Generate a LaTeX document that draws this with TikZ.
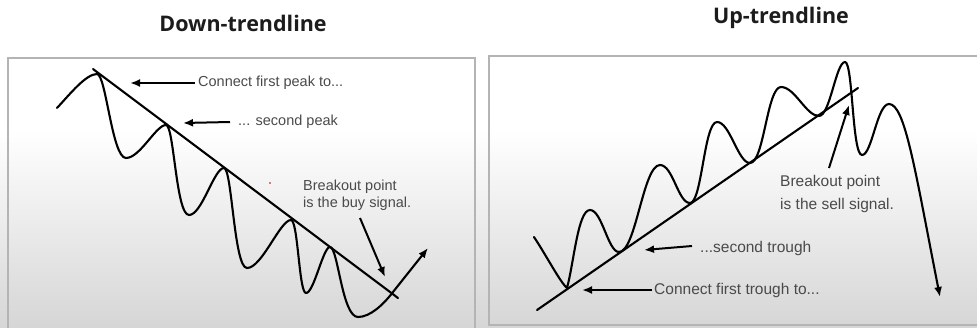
\documentclass[tikz,border=0pt]{standalone}
\usepackage{fontspec}
\setmainfont{Liberation Sans}
\newfontfamily\titlefont{Open Sans}
\usetikzlibrary{arrows.meta}
\definecolor{boxedge}{HTML}{B4B4B4}
\definecolor{bgbottom}{HTML}{D6D6D6}
\definecolor{lblgray}{HTML}{4A4A4A}
\definecolor{titlecol}{HTML}{1C1C1C}
\tikzset{
  curve/.style={line width=2.1pt, black, line join=round, line cap=round},
  trend/.style={line width=2.1pt, black, line cap=round},
  arr/.style={line width=2pt, black, -{Latex[length=10pt,width=8pt]}},
  lblL/.style={text=lblgray, inner sep=0pt, font=\fontsize{14.5}{17}\selectfont},
  lblR/.style={text=lblgray, inner sep=0pt, font=\fontsize{15.5}{23}\selectfont},
  ttl/.style={text=titlecol, inner sep=0pt, font=\titlefont\bfseries\fontsize{21.5}{24}\selectfont},
  panel/.style={draw=boxedge, line width=1.6pt}
}
\begin{document}
\begin{tikzpicture}[x=1pt,y=-1pt]
\useasboundingbox (0,0) rectangle (977,327);
\clip (0,0) rectangle (977,327);
% background
\fill[white] (0,0) rectangle (977,130);
\shade[top color=white, bottom color=bgbottom] (0,130) rectangle (977,327);
% panels
\draw[panel] (8,58) rectangle (475,345);
\draw[panel] (489,56) rectangle (995,325);
% titles
\node[ttl] (t1) at (243,23) {Down-trendline};
\node[ttl] (t2) at (781,18) {Up-trendline};

% ---------------- left panel ----------------
\draw[trend] (93,69) coordinate (dlA) -- (398,298) coordinate (dlB);
\coordinate (dend) at (428,248);
\draw[curve, -{Latex[length=10pt,width=8pt]}] (57,108)
  .. controls (70,94) and (86,74) .. (97,74)
  .. controls (106,74) and (112,158) .. (126,158)
  .. controls (140,158) and (156,125) .. (166,125)
  .. controls (174,125) and (176,215) .. (189,215)
  .. controls (202,215) and (214,168) .. (224,168)
  .. controls (232,168) and (234,268) .. (247,268)
  .. controls (262,268) and (280,220) .. (291,220)
  .. controls (298,220) and (299,293) .. (306,293)
  .. controls (314,293) and (323,247) .. (330,247)
  .. controls (338,247) and (342,317) .. (358,317)
  .. controls (370,317) and (383,305) .. (393,292)
  -- (dend);
\node[lblL, anchor=west] (l1) at (198,83) {Connect first peak to...};
\coordinate (l1tip) at (130,83);
\draw[arr] ([xshift=-3pt]l1.west) -- (l1tip);
\node[lblL, anchor=west] (l2) at (238,122) {... second peak};
\coordinate (l2tip) at (183,123);
\draw[arr] ([xshift=-8pt]l2.west) -- (l2tip);
\node[lblL, anchor=north west, align=left] (l3) at (303,180) {Breakout point\\is the buy signal.};
\coordinate (l3s) at (360,218);
\coordinate (l3tip) at (385,277);
\draw[arr] (l3s) -- (l3tip);
\fill[red!70!black] (270,183) circle (0.9pt);

% ---------------- right panel ----------------
\draw[trend] (537,310) coordinate (ulA) -- (858,88) coordinate (ulB);
\coordinate (uend) at (940,297);
\draw[curve, -{Latex[length=10pt,width=8pt]}] (534,237)
  .. controls (546,255) and (560,282) .. (567,288)
  .. controls (574,262) and (578,210) .. (590,210)
  .. controls (602,210) and (608,252) .. (619,252)
  .. controls (636,252) and (643,165) .. (660,165)
  .. controls (673,165) and (678,203) .. (690,203)
  .. controls (702,203) and (704,122) .. (717,122)
  .. controls (730,122) and (738,163) .. (750,163)
  .. controls (764,163) and (767,87) .. (781,87)
  .. controls (795,87) and (806,116) .. (819,116)
  .. controls (830,116) and (836,62) .. (845,62)
  .. controls (853,62) and (852,155) .. (862,155)
  .. controls (872,155) and (877,104) .. (889,104)
  .. controls (905,104) and (915,170) .. (uend);
\node[lblR, anchor=west] (r1) at (654,290) {Connect first trough to...};
\coordinate (r1tip) at (582,290);
\draw[arr] ([xshift=-2pt]r1.west) -- (r1tip);
\node[lblR, anchor=west] (r2) at (700,248) {...second trough};
\coordinate (r2tip) at (644,250);
\draw[arr] ([xshift=-8pt,yshift=2pt]r2.west) -- (r2tip);
\node[lblR, anchor=north west, align=left] (r3) at (780,175) {Breakout point\\is the sell signal.};
\coordinate (r3s) at (829,168);
\coordinate (r3tip) at (849,105);
\draw[arr] (r3s) -- (r3tip);
\end{tikzpicture}
\end{document}
